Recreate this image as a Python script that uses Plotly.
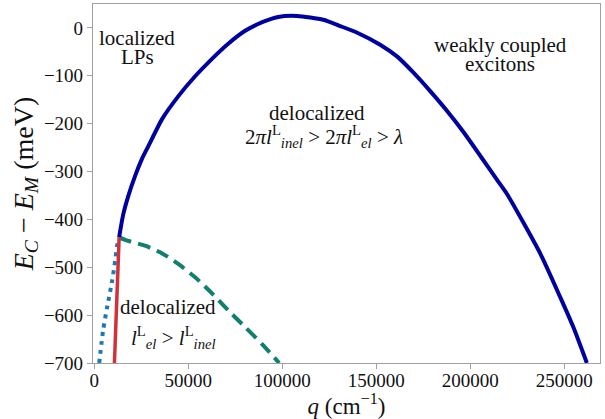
import plotly.graph_objects as go

# Blue solid curve (delocalized boundary)
blue_q = [13300, 15400, 18100, 21800, 25500, 28700, 36200, 44700, 53700, 62800, 71300,
          80300, 89400, 97900, 108000, 121800, 130800, 139900, 152100, 161200, 169700,
          178700, 187800, 196300, 205300, 214900, 219700, 237300, 247900, 254800, 262000]
blue_E = [-437, -391, -352, -309, -273, -248, -190, -143, -101, -64, -33,
          -6, 12, 23, 25, 17, 4, -10, -35, -60, -93,
          -132, -174, -217, -267, -321, -348, -472, -563, -625, -700]

# Dotted extension
dot_q = [2700, 4800, 6900, 9600, 11200, 12200, 13100]
dot_E = [-700, -631, -584, -528, -486, -455, -443]

# Red vertical boundary
red_q = [10800, 13300]
red_E = [-700, -437]

# Green dashed curve
green_q = [13300, 16500, 27100, 36200, 44700, 53700, 62800, 71300, 80300, 89400, 98400]
green_E = [-437, -443, -455, -471, -493, -521, -555, -590, -625, -661, -700]

xticks = [0, 50000, 100000, 150000, 200000, 250000]
xtick_text = ["0", "50000", "100000", "150000", "200000", "250000"]
yticks = [0, -100, -200, -300, -400, -500, -600, -700]

FONT = "Liberation Serif"

fig = go.Figure()
fig.add_trace(go.Scatter(x=dot_q, y=dot_E, mode="lines",
                         line=dict(color="#1f77b4", width=4, dash="4px,5px", shape="spline", smoothing=0.6),
                         hoverinfo="skip"))
fig.add_trace(go.Scatter(x=green_q, y=green_E, mode="lines",
                         line=dict(color="#0f7f6e", width=4, dash="13px,7px", shape="spline", smoothing=0.6),
                         hoverinfo="skip"))
fig.add_trace(go.Scatter(x=blue_q, y=blue_E, mode="lines",
                         line=dict(color="#0000a0", width=4, shape="spline", smoothing=0.6),
                         hoverinfo="skip"))
fig.add_trace(go.Scatter(x=red_q, y=red_E, mode="lines",
                         line=dict(color="#d0313a", width=3.5), hoverinfo="skip"))

ann_font = dict(family=FONT, size=21, color="#111")
annotations = [
    dict(x=22900, y=-20, text="localized", showarrow=False, font=ann_font),
    dict(x=22900, y=-60, text="LPs", showarrow=False, font=ann_font),
    dict(x=216000, y=-36, text="weakly coupled", showarrow=False, font=ann_font),
    dict(x=216000, y=-75, text="excitons", showarrow=False, font=ann_font),
    dict(x=118600, y=-178, text="delocalized", showarrow=False, font=ann_font),
    dict(x=122400, y=-226,
         text="2<i>π</i><i>l</i><sup>L</sup><sub><i>inel</i></sub> > 2<i>π</i><i>l</i><sup>L</sup><sub><i>el</i></sub> > <i>λ</i>",
         showarrow=False, font=ann_font),
    dict(x=39400, y=-582, text="delocalized", showarrow=False, font=ann_font),
    dict(x=42000, y=-646,
         text="<i>l</i><sup>L</sup><sub><i>el</i></sub> > <i>l</i><sup>L</sup><sub><i>inel</i></sub>",
         showarrow=False, font=ann_font),
]

fig.update_layout(
    width=605, height=419,
    margin=dict(l=93, r=5, t=4, b=56),
    paper_bgcolor="white", plot_bgcolor="white",
    showlegend=False,
    font=dict(family=FONT, size=19, color="#111"),
    annotations=annotations,
)
fig.update_xaxes(range=[-600, 269000], tickvals=xticks, ticktext=xtick_text, automargin=False,
                 showgrid=False, zeroline=False, showline=True, linecolor="#a0a0a0", linewidth=1.2,
                 mirror=True, ticks="outside", ticklen=5, tickcolor="#a0a0a0",
                 ticklabelstandoff=-5,
                 tickfont=dict(family=FONT, size=19, color="#111"),
                 title=dict(text="<i>q</i> (cm<sup>−1</sup>)", font=dict(family=FONT, size=23), standoff=2))
fig.update_yaxes(range=[-700, 50], tickvals=yticks, automargin=False,
                 showgrid=False, zeroline=False, showline=True, linecolor="#a0a0a0", linewidth=1.2,
                 mirror=True, ticks="outside", ticklen=5, tickcolor="#a0a0a0",
                 tickfont=dict(family=FONT, size=19, color="#111"),
                 title=dict(text="<i>E</i><sub><i>C</i></sub> − <i>E</i><sub><i>M</i></sub> (meV)",
                            font=dict(family=FONT, size=28), standoff=2))

fig.write_html("out.html", config={"displayModeBar": False},
               post_script="document.body.style.margin='0';")
